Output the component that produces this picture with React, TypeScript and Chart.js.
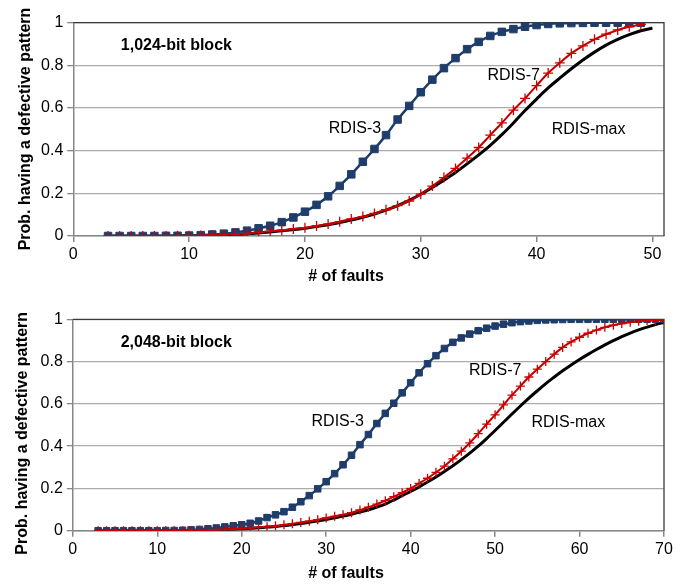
import React, { useEffect, useRef } from "react";
import { Chart, registerables } from "chart.js";

Chart.register(...registerables);

// ---------- data: 1,024-bit block ----------
const topFaults = [3, 4, 5, 6, 7, 8, 9, 10, 11, 12, 13, 14, 15, 16, 17, 18, 19, 20, 21, 22, 23, 24, 25, 26, 27, 28, 29, 30, 31, 32, 33, 34, 35, 36, 37, 38, 39, 40, 41, 42, 43, 44, 45, 46, 47, 48, 49];
const topFaultsMax = [3, 4, 5, 6, 7, 8, 9, 10, 11, 12, 13, 14, 15, 16, 17, 18, 19, 20, 21, 22, 23, 24, 25, 26, 27, 28, 29, 30, 31, 32, 33, 34, 35, 36, 37, 38, 39, 40, 41, 42, 43, 44, 45, 46, 47, 48, 49, 50];
const topRdis3 = [0, 0, 0, 0, 0, 0.001, 0.001,
  0.002, 0.004, 0.007, 0.011, 0.017, 0.025, 0.036, 0.048, 0.065, 0.087,
  0.114, 0.146, 0.186, 0.235, 0.289, 0.348, 0.408, 0.473, 0.546, 0.61,
  0.674, 0.733, 0.787, 0.834, 0.876, 0.91, 0.938, 0.957, 0.97, 0.981,
  0.989, 0.994, 0.997, 0.998, 0.999, 1, 1, 1, 1, 1];
const topRdis7 = [0, 0, 0, 0, 0, 0, 0.001,
  0.001, 0.002, 0.004, 0.006, 0.009, 0.012, 0.017, 0.022, 0.027, 0.033,
  0.039, 0.047, 0.056, 0.067, 0.08, 0.091, 0.106, 0.123, 0.142, 0.164,
  0.196, 0.234, 0.274, 0.317, 0.365, 0.415, 0.473, 0.53, 0.59, 0.645,
  0.705, 0.764, 0.812, 0.856, 0.891, 0.922, 0.946, 0.966, 0.981, 0.992];
const topRdisMax = [0, 0, 0, 0, 0, 0, 0.001,
  0.001, 0.002, 0.003, 0.005, 0.007, 0.01, 0.014, 0.019, 0.024, 0.03,
  0.036, 0.044, 0.053, 0.063, 0.075, 0.088, 0.103, 0.121, 0.142, 0.167,
  0.196, 0.228, 0.262, 0.298, 0.338, 0.38, 0.425, 0.475, 0.53, 0.588,
  0.642, 0.694, 0.74, 0.784, 0.825, 0.862, 0.895, 0.922, 0.944, 0.962,
  0.975];
const topXTicks = [0, 10, 20, 30, 40, 50];
const topXMax = 51;

// ---------- data: 2,048-bit block ----------
const bottomFaults = [3, 4, 5, 6, 7, 8, 9, 10, 11, 12, 13, 14, 15, 16, 17, 18, 19, 20, 21, 22, 23, 24, 25, 26, 27, 28, 29, 30, 31, 32, 33, 34, 35, 36, 37, 38, 39, 40, 41, 42, 43, 44, 45, 46, 47, 48, 49, 50, 51, 52, 53, 54, 55, 56, 57, 58, 59, 60, 61, 62, 63, 64, 65, 66, 67, 68, 69, 70];
const bottomRdis3 = [0, 0, 0, 0, 0, 0, 0, 0,
  0.001, 0.001, 0.002, 0.004, 0.006, 0.009, 0.013, 0.018, 0.023,
  0.028, 0.035, 0.046, 0.062, 0.075, 0.09, 0.111, 0.137, 0.166, 0.198,
  0.232, 0.27, 0.312, 0.357, 0.407, 0.455, 0.507, 0.555, 0.603, 0.652,
  0.70, 0.747, 0.79, 0.828, 0.862, 0.891, 0.912, 0.93, 0.946, 0.958,
  0.968, 0.977, 0.984, 0.989, 0.992, 0.995, 0.997, 0.998, 0.999, 1,
  1, 1, 1, 1, 1, 1, 1, 1, 1, 1, 1];
const bottomRdis7 = [0, 0, 0, 0, 0, 0, 0, 0, 0, 0, 0,
  0.001, 0.002, 0.003, 0.004, 0.006, 0.008,
  0.01, 0.013, 0.016, 0.019, 0.023, 0.028, 0.033, 0.039, 0.045, 0.052,
  0.06, 0.068, 0.076, 0.085, 0.098, 0.111, 0.126, 0.142, 0.161, 0.18,
  0.2, 0.224, 0.248, 0.276, 0.305, 0.34, 0.376, 0.415, 0.459, 0.504,
  0.548, 0.595, 0.641, 0.684, 0.727, 0.764, 0.8, 0.835, 0.867, 0.893,
  0.915, 0.934, 0.949, 0.962, 0.972, 0.98, 0.986, 0.991, 0.994, 0.996,
  0.998];
const bottomRdisMax = [0, 0, 0, 0, 0, 0, 0, 0, 0, 0, 0,
  0.001, 0.002, 0.003, 0.004, 0.005, 0.007,
  0.009, 0.011, 0.014, 0.017, 0.02, 0.024, 0.029, 0.034, 0.04, 0.046,
  0.053, 0.061, 0.069, 0.078, 0.088, 0.099, 0.112, 0.126, 0.145, 0.166,
  0.186, 0.207, 0.23, 0.254, 0.28, 0.307, 0.336, 0.367, 0.4, 0.436,
  0.474, 0.513, 0.552, 0.59, 0.627, 0.662, 0.696, 0.727, 0.757, 0.784,
  0.81, 0.834, 0.857, 0.879, 0.899, 0.918, 0.935, 0.95, 0.963, 0.975,
  0.985];
const bottomXTicks = [0, 10, 20, 30, 40, 50, 60, 70];
const bottomXMax = 70;

const yTicks = [0, 0.2, 0.4, 0.6, 0.8, 1];
const seriesNames = ["RDIS-3", "RDIS-7", "RDIS-max"];
const xTitle = "# of faults";
const yTitle = "Prob. having a defective pattern";
const topBlockLabel = "1,024-bit block";
const bottomBlockLabel = "2,048-bit block";

const FONT = "'Liberation Sans', Arial, Helvetica, sans-serif";
const BLUE = "#1F3D6B";
const RED = "#D00000";

const pts = (xs: number[], ys: number[]) => xs.map((x, i) => ({ x, y: ys[i] }));

const decorPlugin = {
  id: "decor",
  beforeDatasetsDraw(chart: any) {
    const { ctx, chartArea: a } = chart;
    ctx.save();
    ctx.strokeStyle = "#3a3a3a";
    ctx.lineWidth = 1.3;
    ctx.beginPath();
    ctx.moveTo(a.left, a.top);
    ctx.lineTo(a.right, a.top);
    ctx.lineTo(a.right, a.bottom);
    ctx.stroke();
    ctx.restore();
  },
  afterDatasetsDraw(chart: any, _a: any, opts: any) {
    const { ctx, scales } = chart;
    ctx.save();
    ctx.fillStyle = "#000";
    ctx.textBaseline = "middle";
    ctx.textAlign = "left";
    for (const l of opts.labels || []) {
      ctx.font = (l.bold ? "bold " : "") + "16px " + FONT;
      ctx.fillText(l.text, scales.x.getPixelForValue(l.x), scales.y.getPixelForValue(l.y));
    }
    ctx.font = "bold 16px " + FONT;
    ctx.textAlign = "center";
    ctx.fillText(opts.xTitle, chart.width / 2, opts.xTitleY);
    ctx.translate(opts.yTitleX, opts.yTitleY);
    ctx.rotate(-Math.PI / 2);
    ctx.textBaseline = "alphabetic";
    ctx.fillText(opts.yTitle, 0, 0);
    ctx.restore();
  },
};

function makeConfig(p: any) {
  return {
    type: "line",
    data: {
      datasets: [
        {
          label: seriesNames[1],
          data: pts(p.faults, p.rdis7),
          borderColor: "#C00000",
          borderWidth: 2,
          pointStyle: "cross",
          pointRadius: p.crossR,
          pointBorderWidth: 1.3,
          pointBorderColor: RED,
          pointBackgroundColor: RED,
          cubicInterpolationMode: "monotone",
          order: 0,
        },
        {
          label: seriesNames[0],
          data: pts(p.faults, p.rdis3),
          borderColor: BLUE,
          borderWidth: 2.5,
          pointStyle: "rect",
          pointRadius: p.rectR,
          pointBorderWidth: 1,
          pointBorderColor: BLUE,
          pointBackgroundColor: BLUE,
          cubicInterpolationMode: "monotone",
          order: 1,
        },
        {
          label: seriesNames[2],
          data: pts(p.faultsMax, p.rdisMax),
          borderColor: "#000",
          borderWidth: 3,
          pointRadius: 0,
          cubicInterpolationMode: "monotone",
          order: 2,
        },
      ],
    },
    options: {
      responsive: false,
      animation: false,
      devicePixelRatio: 1,
      layout: { padding: { top: p.padTop, right: 28, bottom: 0, left: 0 } },
      plugins: {
        legend: { display: false },
        tooltip: { enabled: false },
        decor: {
          labels: p.labels,
          xTitle,
          yTitle,
          xTitleY: p.xTitleY,
          yTitleX: p.yTitleX,
          yTitleY: p.yTitleY,
        },
      },
      scales: {
        x: {
          type: "linear",
          min: 0,
          max: p.xMax,
          afterBuildTicks: (s: any) => {
            s.ticks = p.xTicks.map((v: number) => ({ value: v }));
          },
          afterFit: (s: any) => {
            s.height = p.xAxisH;
          },
          grid: { drawOnChartArea: false, drawTicks: true, tickLength: 6, color: "#868686", lineWidth: 1.5 },
          border: { color: "#868686", width: 1.5 },
          ticks: { font: { family: FONT, size: 16 }, color: "#000", padding: 3, maxRotation: 0, callback: (v: any) => String(v) },
        },
        y: {
          type: "linear",
          min: 0,
          max: 1,
          afterBuildTicks: (s: any) => {
            s.ticks = yTicks.map((v) => ({ value: v }));
          },
          afterFit: (s: any) => {
            s.width = p.yAxisW;
          },
          grid: { color: "#ababab", lineWidth: 1.3, drawTicks: true, tickLength: 6, tickColor: "#868686" },
          border: { color: "#868686", width: 1.5 },
          ticks: { font: { family: FONT, size: 16 }, color: "#000", padding: 4, callback: (v: any) => String(v) },
        },
      },
    },
    plugins: [decorPlugin],
  } as any;
}

function ChartBox(props: { cfg: any; top: number; height: number }) {
  const ref = useRef<HTMLCanvasElement | null>(null);
  useEffect(() => {
    if (!ref.current) return;
    const c = new Chart(ref.current, props.cfg);
    return () => c.destroy();
  }, []);
  return (
    <canvas
      ref={ref}
      width={692}
      height={props.height}
      style={{ position: "absolute", left: 0, top: props.top, width: 692, height: props.height }}
    />
  );
}

export default function App() {
  const topCfg = makeConfig({
    faults: topFaults,
    faultsMax: topFaultsMax,
    rdis3: topRdis3,
    rdis7: topRdis7,
    rdisMax: topRdisMax,
    xTicks: topXTicks,
    xMax: topXMax,
    padTop: 22.7,
    xAxisH: 57,
    yAxisW: 73.3,
    rectR: 5.3,
    crossR: 5,
    xTitleY: 277,
    yTitleX: 29.5,
    yTitleY: 129,
    labels: [
      { text: topBlockLabel, x: 4.1, y: 0.895, bold: true },
      { text: seriesNames[0], x: 22.06, y: 0.505 },
      { text: seriesNames[1], x: 35.76, y: 0.75 },
      { text: seriesNames[2], x: 41.3, y: 0.497 },
    ],
  });
  const bottomCfg = makeConfig({
    faults: bottomFaults,
    faultsMax: bottomFaults,
    rdis3: bottomRdis3,
    rdis7: bottomRdis7,
    rdisMax: bottomRdisMax,
    xTicks: bottomXTicks,
    xMax: bottomXMax,
    padTop: 26.3,
    xAxisH: 56.3,
    yAxisW: 72.8,
    rectR: 4.6,
    crossR: 4.5,
    xTitleY: 281,
    yTitleX: 27,
    yTitleY: 140.3,
    labels: [
      { text: bottomBlockLabel, x: 5.67, y: 0.889, bold: true },
      { text: seriesNames[0], x: 28.27, y: 0.516 },
      { text: seriesNames[1], x: 46.9, y: 0.755 },
      { text: seriesNames[2], x: 54.3, y: 0.511 },
    ],
  });
  return (
    <div style={{ position: "absolute", left: 0, top: 0, width: 692, height: 587, background: "#fff" }}>
      <ChartBox cfg={topCfg} top={0} height={293} />
      <ChartBox cfg={bottomCfg} top={293} height={294} />
    </div>
  );
}
